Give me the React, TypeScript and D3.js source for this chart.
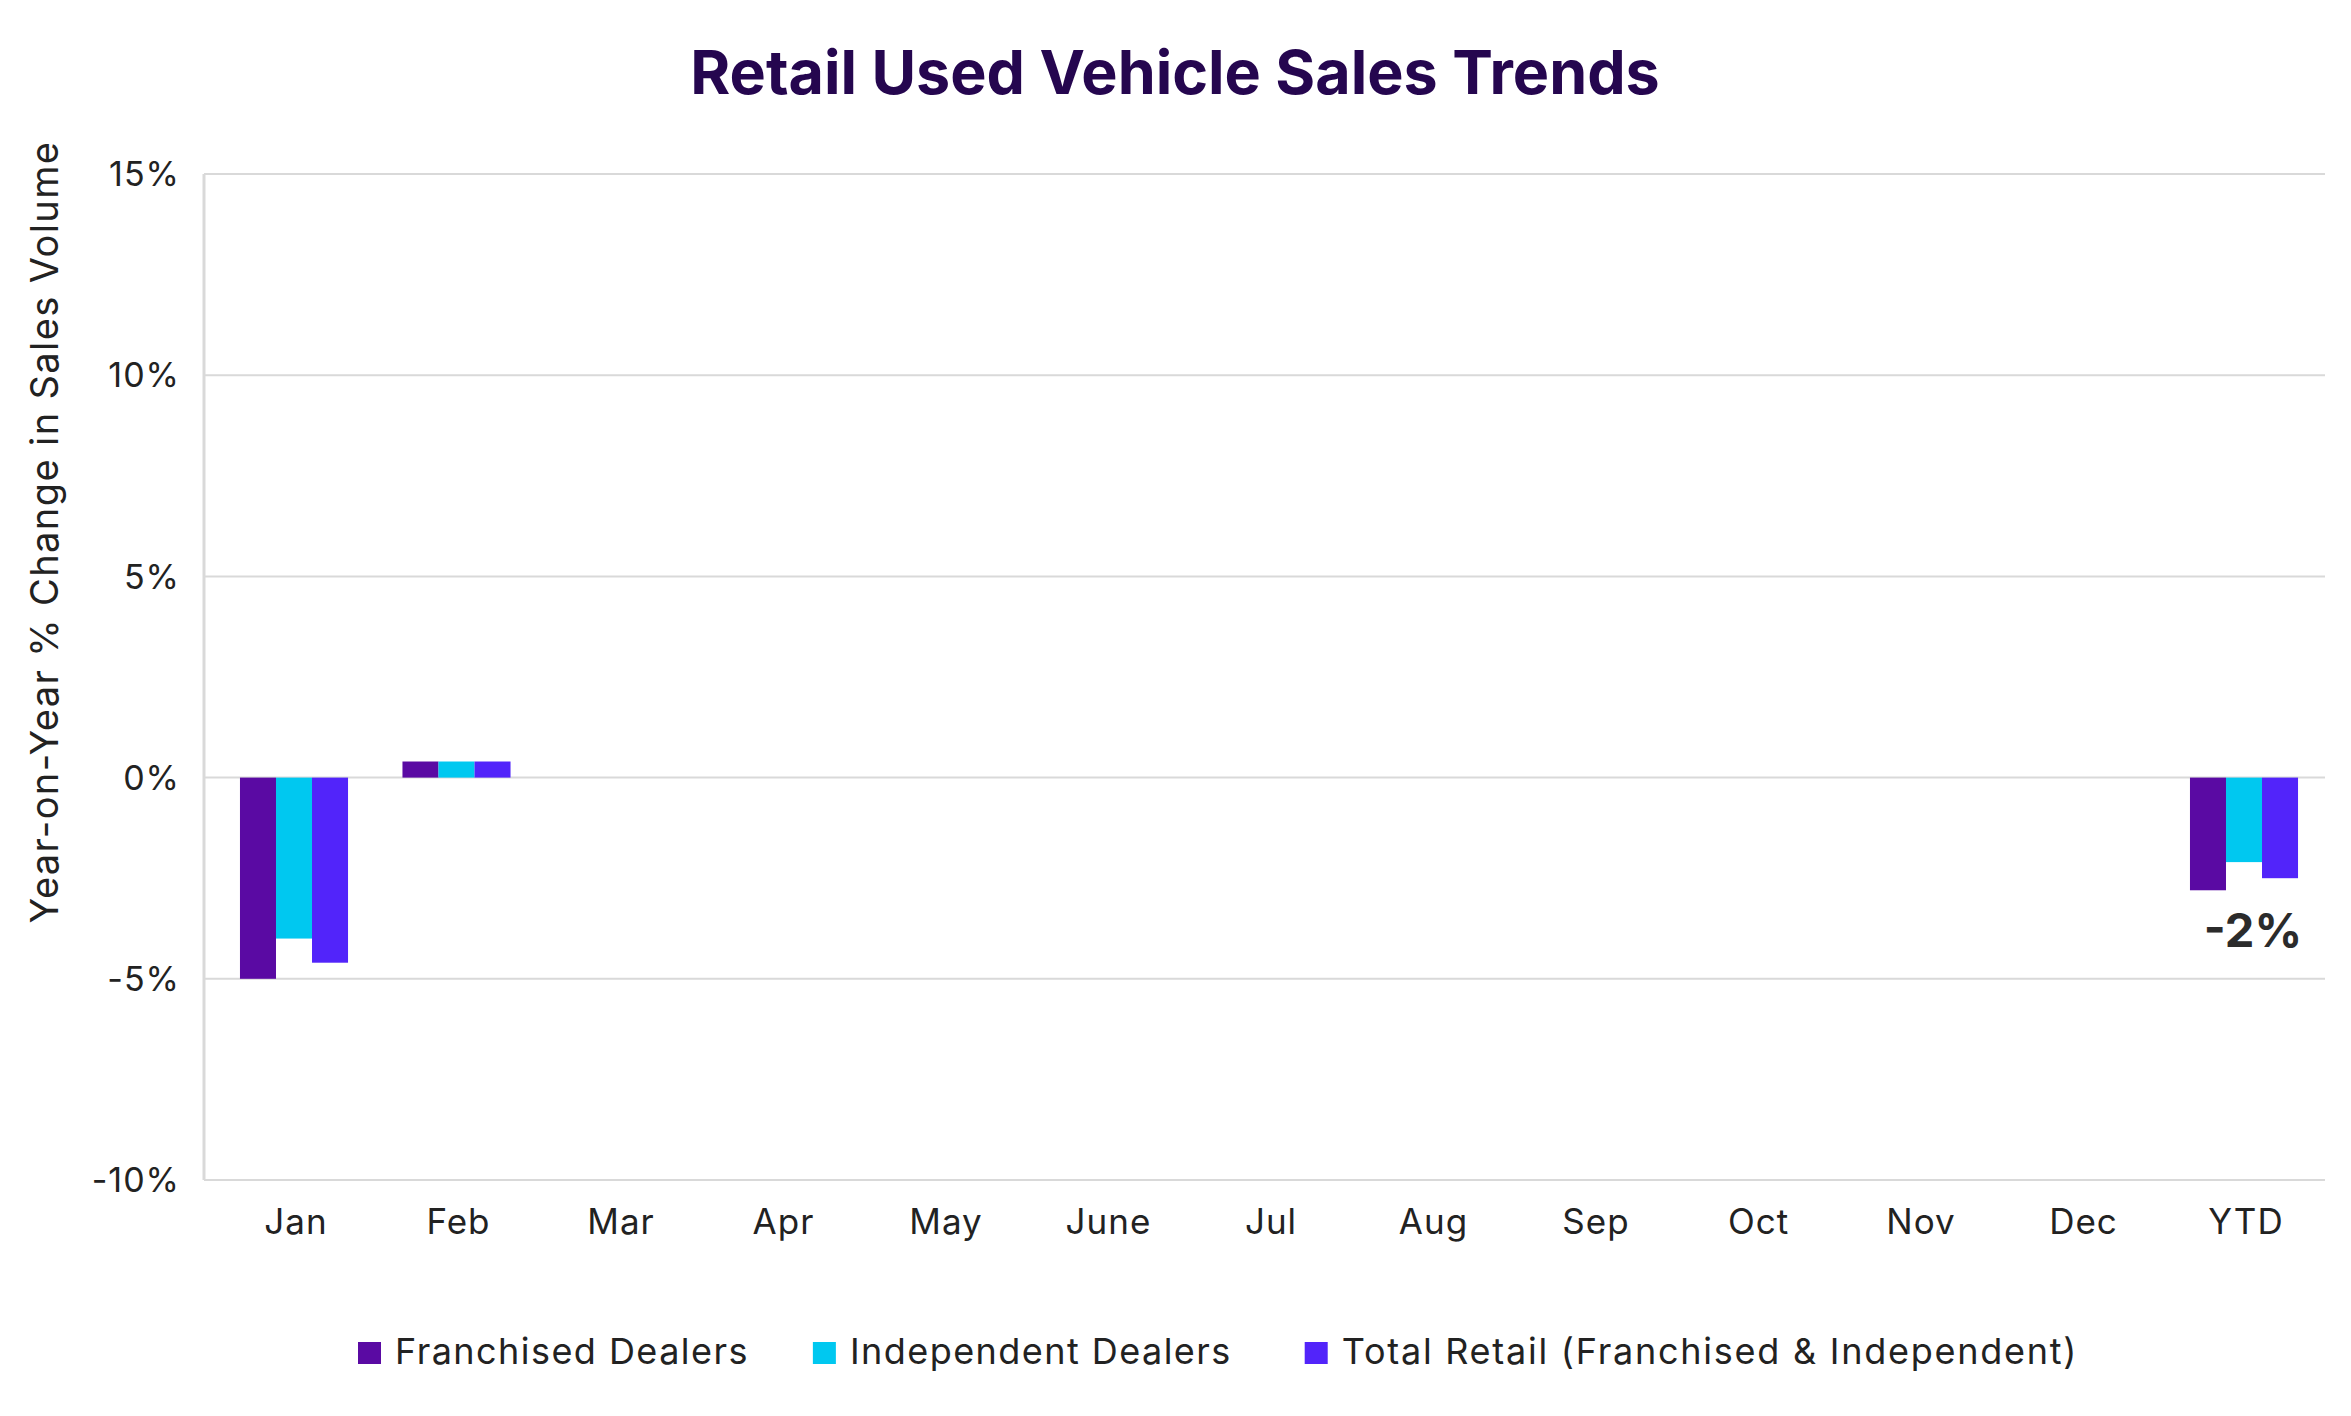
import React, { useEffect, useRef } from "react";
import * as d3 from "d3";

const categories = ["Jan", "Feb", "Mar", "Apr", "May", "June", "Jul", "Aug", "Sep", "Oct", "Nov", "Dec", "YTD"];
const seriesNames = ["Franchised Dealers", "Independent Dealers", "Total Retail (Franchised & Independent)"];
const franchised: (number | null)[] = [-5.0, 0.4, null, null, null, null, null, null, null, null, null, null, -2.8];
const independent: (number | null)[] = [-4.0, 0.4, null, null, null, null, null, null, null, null, null, null, -2.1];
const totalRetail: (number | null)[] = [-4.6, 0.4, null, null, null, null, null, null, null, null, null, null, -2.5];
const yTicks = [-10, -5, 0, 5, 10, 15];
const colors = ["#5a0aa3", "#00c8f0", "#5224fa"];
const ytdLabel = "-2%";

const W = 2351;
const H = 1416;
const FONT = "Inter, 'Noto Sans', Arial, sans-serif";

export default function App() {
  const ref = useRef<SVGSVGElement | null>(null);

  useEffect(() => {
    const svg = d3.select(ref.current);
    svg.selectAll("*").remove();

    const plotLeft = 204;
    const plotRight = 2325;
    const top = 174;
    const bottom = 1180;

    const y = d3.scaleLinear().domain([-10, 15]).range([bottom, top]);
    const x = d3.scaleBand<string>().domain(categories).range([212.75, 2325.25]).paddingInner(0).paddingOuter(0);
    const groupW = x.bandwidth() * 0.665;
    const xs = d3.scaleBand<number>().domain([0, 1, 2]).range([0, groupW]).padding(0);

    // title
    svg.append("text")
      .attr("x", 1175).attr("y", 94)
      .attr("text-anchor", "middle")
      .attr("font-family", FONT).attr("font-weight", 700).attr("font-size", 61)
      .attr("fill", "#25064f")
      .text("Retail Used Vehicle Sales Trends");

    // gridlines
    svg.append("g").selectAll("line").data(yTicks).join("line")
      .attr("x1", plotLeft).attr("x2", plotRight)
      .attr("y1", d => y(d)).attr("y2", d => y(d))
      .attr("stroke", "#d9d9d9").attr("stroke-width", 2);

    // left axis line
    svg.append("line")
      .attr("x1", plotLeft).attr("x2", plotLeft).attr("y1", top).attr("y2", bottom)
      .attr("stroke", "#d9d9d9").attr("stroke-width", 3);

    // y tick labels
    svg.append("g").selectAll("text").data(yTicks).join("text")
      .attr("x", 180).attr("y", d => y(d))
      .attr("dy", "0.36em")
      .attr("text-anchor", "end")
      .attr("font-family", FONT).attr("font-size", 34).attr("letter-spacing", 1).attr("fill", "#222")
      .text(d => `${d}%`);

    // y-axis title
    svg.append("text")
      .attr("transform", `translate(58,532) rotate(-90)`)
      .attr("text-anchor", "middle")
      .attr("font-family", FONT).attr("font-size", 38).attr("letter-spacing", 1.4).attr("fill", "#222")
      .text("Year-on-Year % Change in Sales Volume");

    // x labels
    svg.append("g").selectAll("text").data(categories).join("text")
      .attr("x", d => (x(d) as number) + x.bandwidth() / 2 + 2)
      .attr("y", 1234)
      .attr("text-anchor", "middle")
      .attr("font-family", FONT).attr("font-size", 35).attr("letter-spacing", 1).attr("fill", "#222")
      .text(d => d);

    // bars
    const seriesData = [franchised, independent, totalRetail];
    seriesData.forEach((vals, si) => {
      svg.append("g").selectAll("rect")
        .data(categories.map((c, i) => ({ c, v: vals[i] })).filter(d => d.v !== null))
        .join("rect")
        .attr("x", d => (x(d.c) as number) + (x.bandwidth() - groupW) / 2 + (xs(si) as number))
        .attr("width", xs.bandwidth())
        .attr("y", d => Math.min(y(d.v as number), y(0)))
        .attr("height", d => Math.abs(y(d.v as number) - y(0)))
        .attr("fill", colors[si]);
    });

    // YTD label
    svg.append("text")
      .attr("x", (x("YTD") as number) + x.bandwidth() / 2 + 9)
      .attr("y", y(-2.5) + 69)
      .attr("text-anchor", "middle")
      .attr("font-family", FONT).attr("font-weight", 700).attr("font-size", 47)
      .attr("fill", "#2b2b2b")
      .text(ytdLabel);

    // legend
    const lg = svg.append("g");
    const gaps = [64, 73, 0];
    const spacing = [1.45, 1.45, 1.75];
    let lx = 358;
    seriesNames.forEach((name, i) => {
      lg.append("rect").attr("x", lx).attr("y", 1342).attr("width", 23).attr("height", 22).attr("fill", colors[i]);
      const t = lg.append("text")
        .attr("x", lx + 37).attr("y", 1364)
        .attr("font-family", FONT).attr("font-size", 36).attr("letter-spacing", spacing[i]).attr("fill", "#222")
        .text(name);
      const w = (t.node() as SVGTextElement).getComputedTextLength();
      lx = lx + 37 + w + gaps[i];
    });
  }, []);

  return (
    <svg ref={ref} width={W} height={H} style={{ position: "absolute", left: 0, top: 0, background: "#fff" }} />
  );
}
